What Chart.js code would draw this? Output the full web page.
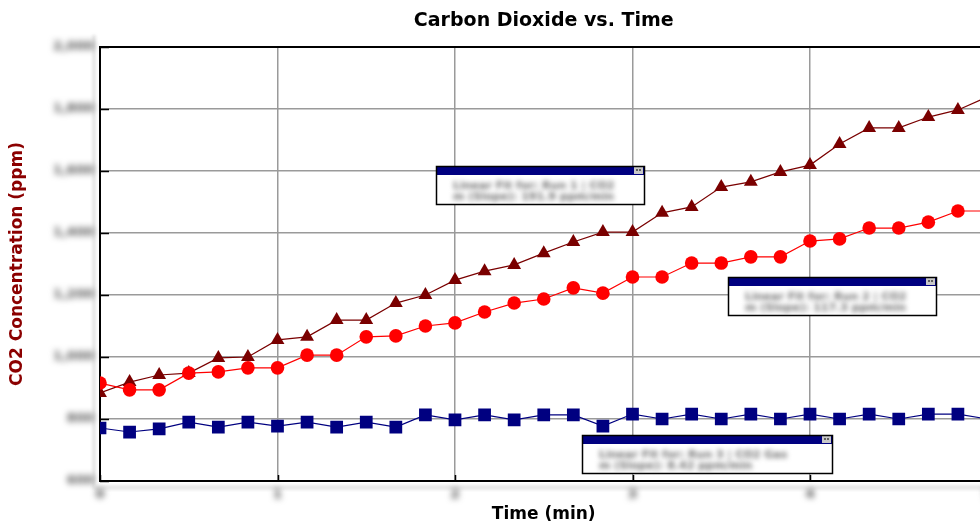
<!DOCTYPE html>
<html><head><meta charset="utf-8">
<script src="https://cdn.jsdelivr.net/npm/chart.js@4.4.1/dist/chart.umd.min.js"></script>
<style>
html,body{margin:0;padding:0;overflow:hidden;background:#fff;width:980px;height:529px}
#wrap{position:absolute;left:0;top:0;width:1000px;height:529px}
</style>
</head><body><div id="wrap"><canvas id="c" width="1000" height="529"></canvas></div>
<script>
// ---- data ----
const chartTitle = 'Carbon Dioxide vs. Time';
const xTitle = 'Time (min)';
const yTitle = 'CO2 Concentration (ppm)';
const times = [0, 0.1667, 0.3333, 0.5, 0.6667, 0.8333, 1, 1.1667, 1.3333, 1.5, 1.6667, 1.8333,
  2, 2.1667, 2.3333, 2.5, 2.6667, 2.8333, 3, 3.1667, 3.3333, 3.5, 3.6667, 3.8333,
  4, 4.1667, 4.3333, 4.5, 4.6667, 4.8333, 5];
const run1CO2 = [884, 919, 942, 948, 997, 1000, 1055, 1065, 1119, 1119, 1174, 1200, 1248, 1277, 1297, 1335,
  1371, 1403, 1403, 1465, 1484, 1548, 1565, 1597, 1619, 1687, 1739, 1739, 1774, 1797, 1839];
const run2CO2 = [916, 894, 894, 948, 952, 965, 965, 1006, 1006, 1065, 1068, 1100, 1110, 1145, 1174, 1187,
  1223, 1206, 1258, 1258, 1303, 1303, 1323, 1323, 1374, 1381, 1416, 1416, 1435, 1471, 1471];
const run3CO2 = [771, 758, 768, 790, 774, 790, 777, 790, 774, 790, 774, 813, 797, 813, 797, 813,
  813, 777, 816, 800, 816, 800, 816, 800, 816, 800, 816, 800, 816, 816, 800];
const xTicks = [0, 1, 2, 3, 4, 5];
const yTicks = [600, 800, 1000, 1200, 1400, 1600, 1800, 2000];
const boxTexts = [
  ['Linear Fit for: Run 1 | CO2', 'm (Slope): 191.9 ppm/min'],
  ['Linear Fit for: Run 2 | CO2', 'm (Slope): 117.3 ppm/min'],
  ['Linear Fit for: Run 3 | CO2 Gas', 'm (Slope): 8.42 ppm/min']
];

// ---- annotation placement (time, ppm anchors + pixel sizes) ----
const boxes = [
  {t: 1.893, v: 1616, w: 209, h: 39, text: boxTexts[0]},
  {t: 3.538, v: 1258, w: 209, h: 39, text: boxTexts[1]},
  {t: 2.716, v: 748,  w: 251, h: 39, text: boxTexts[2]}
];

const toXY = arr => arr.map((v, i) => ({x: times[i], y: v}));

const blurLabels = {
  id: 'blurLabels',
  beforeDraw(chart) {
    Object.values(chart.scales).forEach(s => {
      if (s._blurPatched) return;
      const orig = s.drawLabels.bind(s);
      s.drawLabels = function (area) {
        const ctx = this.ctx; ctx.save(); ctx.filter = 'blur(3px)'; orig(area); ctx.restore();
      };
      s._blurPatched = true;
    });
    // faint strips next to axes
    const {ctx, chartArea: a} = chart;
    ctx.save();
    ctx.filter = 'blur(1.5px)';
    ctx.fillStyle = '#e6e6e6';
    ctx.fillRect(a.left - 8, a.top - 12, 4, a.bottom - a.top + 20);
    ctx.fillRect(a.left - 6, a.bottom + 4, 900, 5);
    ctx.restore();
  }
};

const titleCenter = {
  id: 'titleCenter',
  afterLayout(chart) {
    if (chart.titleBlock) {
      chart.titleBlock.left = chart.chartArea.left;
      chart.titleBlock.right = chart.chartArea.right;
    }
  }
};

const frame = {
  id: 'frame',
  afterDraw(chart) {
    const {ctx, chartArea: a, scales: {x, y}} = chart;
    ctx.save();
    ctx.strokeStyle = '#000';
    ctx.lineWidth = 2;
    ctx.beginPath();
    ctx.moveTo(a.left - 1, a.top); ctx.lineTo(a.right, a.top);
    ctx.stroke();
    ctx.lineWidth = 1.5;
    ctx.beginPath();
    yTicks.forEach(v => {
      const py = Math.round(y.getPixelForValue(v)) + 0.5;
      ctx.moveTo(a.left, py); ctx.lineTo(a.left + 9, py);
    });
    xTicks.forEach(v => {
      const px = Math.round(x.getPixelForValue(v)) + 0.5;
      ctx.moveTo(px, a.bottom); ctx.lineTo(px, a.bottom - 6);
    });
    ctx.stroke();
    // annotation boxes
    boxes.forEach(b => {
      const bx = Math.round(x.getPixelForValue(b.t)), by = Math.round(y.getPixelForValue(b.v));
      ctx.save();
      ctx.fillStyle = '#fff'; ctx.fillRect(bx, by, b.w, b.h);
      ctx.fillStyle = '#000080'; ctx.fillRect(bx, by, b.w, 9);
      ctx.fillStyle = '#c8c8c8'; ctx.fillRect(bx + b.w - 11, by + 1, 9, 7);
      ctx.fillStyle = '#606060'; ctx.fillRect(bx + b.w - 9, by + 3, 2, 2); ctx.fillRect(bx + b.w - 6, by + 3, 2, 2);
      ctx.strokeStyle = '#000'; ctx.lineWidth = 1.5; ctx.strokeRect(bx + 0.5, by + 0.5, b.w - 1, b.h - 1);
      ctx.filter = 'blur(2.8px)';
      ctx.fillStyle = '#707070';
      ctx.font = 'bold 11px "DejaVu Sans"';
      ctx.textBaseline = 'middle';
      b.text.forEach((t, i) => ctx.fillText(t, bx + 17, by + 20 + i * 11, b.w - 34));
      ctx.restore();
    });
    ctx.restore();
  }
};

new Chart(document.getElementById('c'), {
  type: 'line',
  data: {
    datasets: [
      {label: 'Run 2', data: toXY(run2CO2), borderColor: '#ff0000', backgroundColor: '#ff0000',
        pointStyle: 'circle', pointRadius: 6.8, pointBorderWidth: 0, borderWidth: 1.2, tension: 0},
      {label: 'Run 1', data: toXY(run1CO2), borderColor: '#7a0000', backgroundColor: '#7a0000',
        pointStyle: 'triangle', pointRadius: 8, pointBorderWidth: 0, borderWidth: 1.2, tension: 0},
      {label: 'Run 3', data: toXY(run3CO2), borderColor: '#000080', backgroundColor: '#000080',
        pointStyle: 'rect', pointRadius: 9, pointBorderWidth: 0, borderWidth: 1.2, tension: 0}
    ]
  },
  options: {
    responsive: false,
    animation: false,
    devicePixelRatio: 1,
    layout: {padding: {left: 0, right: 12.5, top: 0, bottom: 0}},
    plugins: {
      legend: {display: false},
      tooltip: {enabled: false},
      title: {display: true, text: chartTitle, color: '#000',
        font: {family: '"DejaVu Sans"', size: 19, weight: 'bold'}, padding: {top: 10, bottom: 14.2}}
    },
    scales: {
      x: {
        type: 'linear', min: 0, max: 5,
        afterBuildTicks: s => { s.ticks = xTicks.map(v => ({value: v})); },
        afterFit: s => { s.height = 48; },
        grid: {color: '#9a9a9a', lineWidth: 1.5, drawTicks: false},
        border: {color: '#000', width: 2},
        ticks: {color: '#444', padding: 6, font: {family: '"DejaVu Sans"', size: 13, weight: 'bold'}},
        title: {display: true, text: xTitle, color: '#000', padding: {top: 0, bottom: 4},
          font: {family: '"DejaVu Sans"', size: 17, weight: 'bold'}}
      },
      y: {
        type: 'linear', min: 600, max: 2000,
        afterBuildTicks: s => { s.ticks = yTicks.map(v => ({value: v})); },
        afterFit: s => { s.width = 100; },
        grid: {color: '#9a9a9a', lineWidth: 1.5, drawTicks: false},
        border: {color: '#000', width: 2},
        ticks: {color: '#555', padding: 6, font: {family: '"DejaVu Sans"', size: 13, weight: 'bold'}},
        title: {display: true, text: yTitle, color: '#8b0000', padding: {top: 7, bottom: 0},
          font: {family: '"DejaVu Sans"', size: 17, weight: 'bold'}}
      }
    }
  },
  plugins: [blurLabels, titleCenter, frame]
});
</script>
</body></html>
